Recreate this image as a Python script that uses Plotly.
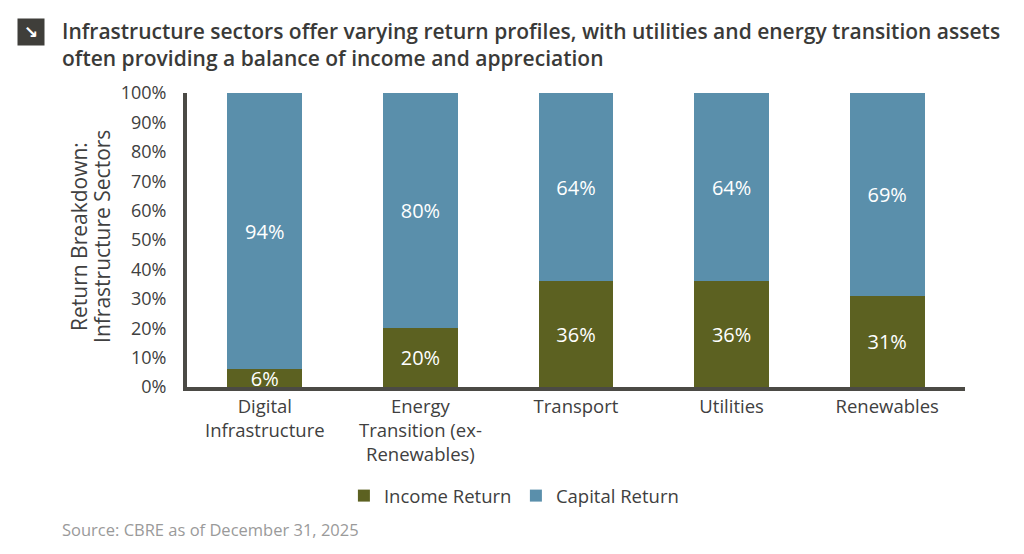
import plotly.graph_objects as go

categories = ["Digital<br>Infrastructure", "Energy<br>Transition (ex-<br>Renewables)", "Transport", "Utilities", "Renewables"]
income_return = [6, 20, 36, 36, 31]
capital_return = [94, 80, 64, 64, 69]
y_ticks = [0, 10, 20, 30, 40, 50, 60, 70, 80, 90, 100]
y_tick_labels = [f"{v}%" for v in y_ticks]

FONT = "Open Sans"
OLIVE = "#5c6121"
BLUE = "#5a8fab"
AXIS = "#4b4a45"
TEXT = "#404040"

fig = go.Figure()
fig.add_trace(go.Bar(
    x=categories, y=income_return, name="Income Return",
    marker=dict(color=OLIVE, line=dict(width=0)),
    text=[f"{v}%" for v in income_return], textposition="inside",
    insidetextanchor="middle", constraintext="none",
    textfont=dict(color="white", size=20, family=FONT),
))
fig.add_trace(go.Bar(
    x=categories, y=capital_return, name="Capital Return",
    marker=dict(color=BLUE, line=dict(width=0)),
    text=[f"{v}%" for v in capital_return], textposition="inside",
    insidetextanchor="middle", constraintext="none",
    textfont=dict(color="white", size=20, family=FONT),
))

fig.update_layout(
    barmode="stack",
    bargap=0.52,
    width=1024, height=554,
    margin=dict(l=179, r=67, t=85, b=175, autoexpand=False),
    paper_bgcolor="white", plot_bgcolor="white",
    font=dict(family=FONT, color=TEXT, size=17),
    showlegend=True,
    legend=dict(orientation="h", x=0.496, xref="container", xanchor="center",
                y=0.119, yref="container", yanchor="middle",
                font=dict(size=18.5, color=TEXT, family=FONT),
                itemwidth=30, entrywidth=127, traceorder="normal"),
    xaxis=dict(showline=True, linecolor=AXIS, linewidth=4, ticks="",
               tickfont=dict(size=18.5, color=TEXT, family=FONT), automargin=False,
               showgrid=False, zeroline=False, fixedrange=True),
    yaxis=dict(range=[0, 100], tickvals=y_ticks, ticktext=y_tick_labels,
               showline=True, linecolor=AXIS, linewidth=4, ticks="",
               ticklabelstandoff=13, automargin=False,
               tickfont=dict(size=18, color=TEXT, family=FONT),
               showgrid=False, zeroline=False),
)

# y-axis title (two tightly spaced lines)
fig.add_annotation(
    text="Return Breakdown:", textangle=-90,
    xref="paper", yref="paper", x=-0.1382, y=0.512, xanchor="center", yanchor="middle",
    showarrow=False, font=dict(size=21, color=TEXT, family=FONT),
)
fig.add_annotation(
    text="Infrastructure Sectors", textangle=-90,
    xref="paper", yref="paper", x=-0.1086, y=0.512, xanchor="center", yanchor="middle",
    showarrow=False, font=dict(size=21, color=TEXT, family=FONT),
)

fig.add_annotation(
    text="Infrastructure sectors offer varying return profiles, with utilities and energy transition assets<br>often providing a balance of income and appreciation",
    xref="paper", yref="paper", x=-0.1632, y=1.165, xanchor="left", yanchor="middle",
    align="left", showarrow=False,
    font=dict(size=21, color="#3a3a38", family=FONT, weight=600),
)
fig.add_annotation(
    text="<b>↘</b>", xref="paper", yref="paper", x=-0.2005, y=1.2075,
    xanchor="center", yanchor="middle", showarrow=False,
    bgcolor="#3f3e3a", width=24, height=24, borderpad=1,
    font=dict(size=17, color="white", family="DejaVu Sans"),
)
fig.add_annotation(
    text="Source: CBRE as of December 31, 2025",
    xref="paper", yref="paper", x=-0.1632, y=-0.486, xanchor="left", yanchor="middle",
    showarrow=False, font=dict(size=16.5, color="#9a9a9a", family=FONT),
)

fig.write_html("out.html")
